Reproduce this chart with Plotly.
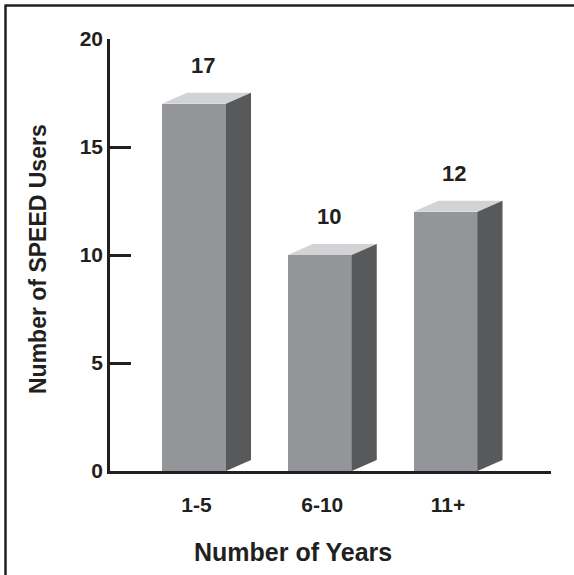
import plotly.graph_objects as go

categories = ["1-5", "6-10", "11+"]
values = [17, 10, 12]
y_ticks = [0, 5, 10, 15, 20]

# colours
FRONT = "#939598"
TOP = "#d1d3d4"
SIDE = "#58595b"
INK = "#231f20"
FONT = "Liberation Sans, Arial, Helvetica, sans-serif"

W, H = 574, 575
ML, MR, MT, MB = 110, 23, 39, 104
PW, PH = W - ML - MR, H - MT - MB

x_range = [-0.668, 2.839]
y_range = [0, 20]
px_per_x = PW / (x_range[1] - x_range[0])
px_per_y = PH / (y_range[1] - y_range[0])

bw = 64 / px_per_x      # front face width
dx = 25 / px_per_x      # depth offset x
dy = 11 / px_per_y      # depth offset y

xs = list(range(len(categories)))

fig = go.Figure()
fig.add_trace(go.Bar(x=xs, y=values, width=bw, marker=dict(color=FRONT, line=dict(width=0)),
                     hoverinfo="skip", showlegend=False))
for i, v in zip(xs, values):
    l, r = i - bw / 2, i + bw / 2
    fig.add_trace(go.Scatter(x=[l, l + dx, r + dx, r, l], y=[v, v + dy, v + dy, v, v],
                             fill="toself", fillcolor=TOP, mode="none",
                             hoverinfo="skip", showlegend=False))
    fig.add_trace(go.Scatter(x=[r, r, r + dx, r + dx, r], y=[0, v, v + dy, dy, 0],
                             fill="toself", fillcolor=SIDE, mode="none",
                             hoverinfo="skip", showlegend=False))
    fig.add_annotation(x=i + 0.07, y=v + dy, text=str(v), showarrow=False,
                       yanchor="bottom", yshift=13,
                       font=dict(family=FONT, size=22, color=INK, weight="bold"))

def px_to_paper_x(p):
    return (p - ML) / PW

def px_to_paper_y(p):
    return (H - MB - p) / PH

# frame (top and left edges)
fig.add_shape(type="line", xref="paper", yref="paper",
              x0=px_to_paper_x(5.5), x1=px_to_paper_x(574), y0=px_to_paper_y(5.5), y1=px_to_paper_y(5.5),
              line=dict(color=INK, width=2.5))
fig.add_shape(type="line", xref="paper", yref="paper",
              x0=px_to_paper_x(5.5), x1=px_to_paper_x(5.5), y0=px_to_paper_y(4.5), y1=px_to_paper_y(580),
              line=dict(color=INK, width=2.5))

fig.add_annotation(xref="paper", yref="paper", x=px_to_paper_x(38), y=px_to_paper_y(259),
                   text="Number of SPEED Users", textangle=-90, showarrow=False,
                   xanchor="center", yanchor="middle",
                   font=dict(family=FONT, size=23, color=INK, weight="bold"))
fig.add_annotation(xref="paper", yref="paper", x=px_to_paper_x(293), y=px_to_paper_y(552),
                   text="Number of Years", showarrow=False,
                   xanchor="center", yanchor="middle",
                   font=dict(family=FONT, size=25, color=INK, weight="bold"))

fig.update_layout(
    width=W, height=H,
    margin=dict(l=ML, r=MR, t=MT, b=MB, pad=0),
    paper_bgcolor="white", plot_bgcolor="white",
    bargap=0,
    xaxis=dict(range=x_range, tickvals=[x + 0.02 for x in xs], ticktext=categories,
               showgrid=False, zeroline=False, showline=True, linecolor=INK, linewidth=2.5,
               ticks="", ticklabelstandoff=13,
               tickfont=dict(family=FONT, size=21, color=INK, weight="bold"), fixedrange=True),
    yaxis=dict(range=y_range, tickvals=y_ticks, showgrid=False, zeroline=False,
               showline=True, linecolor=INK, linewidth=2.5,
               ticks="inside", ticklen=21, tickwidth=2.5, tickcolor=INK,
               ticklabelstandoff=0,
               tickfont=dict(family=FONT, size=21, color=INK, weight="bold"), fixedrange=True),
)

fig.write_html("out.html", config={"displayModeBar": False},
               post_script="document.body.style.margin='0';document.body.style.overflow='hidden';")
